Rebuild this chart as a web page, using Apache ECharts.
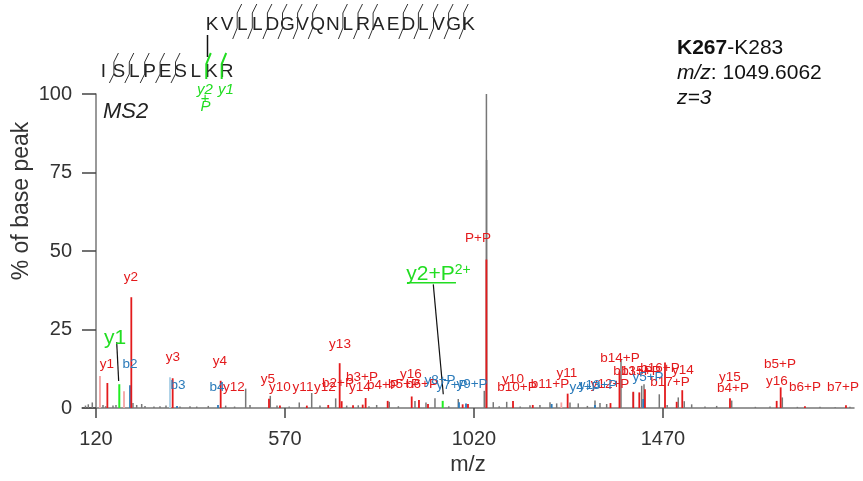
<!DOCTYPE html>
<html><head><meta charset="utf-8">
<script src="https://cdn.jsdelivr.net/npm/echarts@6/dist/echarts.min.js"></script>
<style>html,body{margin:0;padding:0;background:#fff}#c{width:863px;height:481px}</style>
</head><body><div id="c"></div>
<script>
// ---------- data ----------
const xTicks = [120, 570, 1020, 1470];
const yTicks = [0, 25, 50, 75, 100];

const greyPeaks = [[95,0.8],[101.7,1.2],[111.2,1.8],[136.7,1.0],[143,0.6],[160.5,0.8],[167.6,1.0],[208.1,1.6],[216.9,1.0],[228.8,1.3],[236.7,0.7],[258,0.5],[272.4,0.6],[286.7,0.8],[320,0.5],[343.8,0.6],[359.8,0.5],[387.4,0.7],[428.8,0.8],[450,0.5],[476.4,6.2],[486.7,1.0],[535,3.9],[551,0.8],[580,0.5],[604,1.8],[633.6,4.8],[653.3,0.8],[690.7,3.1],[716.9,0.8],[744.5,0.9],[770,0.6],[788.3,1.0],[818.3,2.0],[840,0.6],[879.5,2.3],[905.7,1.8],[927.1,3.1],[960,0.6],[982.6,2.9],[1044.5,5.5],[1049.6,100],[1050.0,79],[1065.9,1.9],[1080,0.6],[1097.9,2.0],[1130,0.5],[1153.3,0.9],[1177,1.0],[1201,1.9],[1216.9,1.5],[1248.6,1.8],[1268.3,1.5],[1290,0.7],[1308.1,2.4],[1320,1.6],[1335.9,1.3],[1370,15.6],[1399.3,5.0],[1419.3,7.1],[1424.8,7.6],[1461.2,4.4],[1480,1.0],[1506.4,3.4],[1520.7,2.2],[1538.3,1.2],[1570,0.5],[1597.8,0.7],[1633.6,2.4],[1690,0.4],[1724.8,0.5],[1754.1,3.4],[1790,0.4],[1843.8,0.4],[1880,0.3],[1915,0.4]];
const redPeaks = [[147.1,8.0],[204.1,35.3],[302.6,9.5],[416.9,8.7],[531.9,3.0],[558,0.8],[622,0.8],[673,1.0],[700.2,14.3],[705,2.2],[732,0.9],[755,1.1],[762,3.2],[814.5,2.3],[871.7,3.7],[889,2.6],[910.5,1.3],[993,1.2],[1005.7,1.3],[1049.6,47.3],[1112.9,2.3],[1160,1.0],[1243,4.6],[1345,1.6],[1366.4,11.7],[1399.3,5.2],[1413.6,5.0],[1427.1,6.0],[1474.8,14.5],[1502.6,2.0],[1515.9,5.7],[1629.5,3.1],[1740.7,2.3],[1750.2,6.6],[1808,0.6],[1905.7,0.9]];
const pinkPeaks = [[129.5,10.2],[186.7,5.4],[1228,1.8]];
const bluePeaks = [[201,7.3],[312.9,0.7],[410.5,1.0],[984.3,1.9],[1001,1.5],[1205,1.3],[1308,1.0],[1423,2.9]];
const lightBluePeaks = [[296.2,9.8]];
const greenPeaks = [[175.5,7.6],[945.5,2.3]];

const redLabels = [['y1',146.2,14.0],['y2',203.3,41.6],['y3',303.3,16.2],['y4',415.2,14.9],['y12',448.6,6.7],['y5',529.5,9.2],['y10',558.1,6.7],['y11',612.9,6.7],['y12',665.2,6.7],['b2+P',696.2,7.9],['y13',701,20.3],['b3+P',753.3,9.8],['y14',748.6,6.7],['b4+P',803.3,7.3],['b5+P',853.3,7.6],['b6+P',896.2,7.6],['y16',870,10.8],['P+P',1029.5,54.0],['y10',1112.9,9.2],['b10+P',1122.4,6.7],['b11+P',1201,7.6],['y11',1241.4,11.1],['y12+P',1343.8,7.6],['b14+P',1367.6,15.9],['b13+P',1398.6,11.7],['b15+P',1417.6,11.7],['b16+P',1462.9,12.7],['y14',1517.6,12.1],['b17+P',1486.7,8.3],['y15',1629.5,9.8],['b4+P',1636.7,6.3],['b5+P',1748.6,14.0],['y16',1741.4,8.6],['b6+P',1808.1,6.7],['b7+P',1898.6,6.7]];
const blueLabels = [['b2',201,14.0],['b3',315.2,7.3],['b4',408.1,6.7],['y8+P',939,8.9],['y7+P',967.6,7.3],['y9+P',1015.2,7.6],['y4+P',1284.3,6.7],['y13+P',1315.2,7.3],['y5+P',1434.3,9.8]];
const greenLabels = [['y1',165.2,22.2],['{a|y2+P}{s|2+}',935.5,42.5]];
const leaderLines = [[169.3,21.0,174.0,8.6],[923.1,39.4,946.9,4.4]];
const underlines = [[860.5,39.9,977.1,39.9]];

const peptideTop = 'KVLLDGVQNLRAEDLVGK';
const peptideBottom = 'ISLPESLKR';
const topBreaks = [2,3,4,5,6,7,9,10,11,13,14,15,16,17];
const bottomBreaks = [1,2,3,4,5];
const bottomGreenBreaks = [7,8];

// ---------- chart ----------
const FONT = '"Liberation Sans", Arial, Helvetica, sans-serif';
const chart = echarts.init(document.getElementById('c'));

function peakSeries(data, color, width, z) {
  return {
    type: 'custom', data: data, z: z, clip: true, encode: {x: 0, y: 1},
    renderItem: function (params, api) {
      const a = api.coord([api.value(0), 0]);
      const b = api.coord([api.value(0), api.value(1)]);
      return {type: 'line', shape: {x1: a[0], y1: a[1], x2: b[0], y2: b[1]},
        style: {stroke: color, lineWidth: width}};
    }
  };
}
function labelSeries(data, color, size, z) {
  return {
    type: 'custom', data: data.map(d => [d[1], d[2]]), z: z, clip: false, encode: {x: 0, y: 1},
    renderItem: function (params, api) {
      const p = api.coord([api.value(0), api.value(1)]);
      return {type: 'text', x: p[0], y: p[1], style: {
        text: data[params.dataIndex][0], fill: color, font: size + 'px ' + FONT,
        align: 'center', verticalAlign: 'middle',
        rich: {a: {fontSize: size, fontFamily: FONT, fill: color},
               s: {fontSize: Math.round(size * 0.68), fontFamily: FONT, fill: color, verticalAlign: 'top', padding: [0, 0, 8, 0]}}
      }};
    }
  };
}
function segSeries(data, color, width, z) {
  return {
    type: 'custom', data: data, z: z, clip: false, encode: {x: [0, 2], y: [1, 3]},
    renderItem: function (params, api) {
      const a = api.coord([api.value(0), api.value(1)]);
      const b = api.coord([api.value(2), api.value(3)]);
      return {type: 'line', shape: {x1: a[0], y1: a[1], x2: b[0], y2: b[1]},
        style: {stroke: color, lineWidth: width}};
    }
  };
}

// peptide annotation graphics
const graphics = [];
function addPeptide(seq, x0, dx, cy, size, breaks, greens, rel) {
  for (let i = 0; i < seq.length; i++) {
    graphics.push({type: 'text', x: x0 + i * dx, y: cy, style: {text: seq[i], font: size + 'px ' + FONT,
      fill: '#222', align: 'center', verticalAlign: 'middle'}});
  }
  breaks.forEach(function (i) {
    const x = x0 + i * dx - 5;
    graphics.push({type: 'polyline', shape: {points: [[x + 4.5, cy + rel[0]], [x, cy + rel[1]], [x, cy + rel[2]], [x - 4.5, cy + rel[3]]]},
      style: {stroke: '#333', lineWidth: 1, fill: null}});
  });
  (greens || []).forEach(function (i) {
    const x = x0 + i * dx - 5;
    graphics.push({type: 'polyline', shape: {points: [[x + 4.5, cy - 19], [x, cy - 8], [x, cy + 7]]},
      style: {stroke: '#22dd22', lineWidth: 2, fill: null}});
  });
}
addPeptide(peptideTop, 212, 15.1, 25, 19, topBreaks, null, [-21, -12, 3, 14]);
addPeptide(peptideBottom, 103.5, 15.4, 72, 19, bottomBreaks, bottomGreenBreaks, [-19, -10, 2, 11]);
graphics.push({type: 'line', shape: {x1: 207.5, y1: 35, x2: 207.5, y2: 57}, style: {stroke: '#111', lineWidth: 1.5}});
[['y2', 205, 90], ['y1', 226, 90], ['+', 205, 99], ['P', 205.5, 107]].forEach(function (t) {
  graphics.push({type: 'text', x: t[1], y: t[2], style: {text: t[0], font: 'italic 15px ' + FONT, fill: '#22dd22', align: 'center', verticalAlign: 'middle'}});
});
graphics.push({type: 'text', x: 103, y: 112, style: {text: 'MS2', font: 'italic 22px ' + FONT, fill: '#222', verticalAlign: 'middle'}});
graphics.push({type: 'text', x: 677, y: 48, style: {text: '{b|K267}{n|-K283}', verticalAlign: 'middle',
  rich: {b: {fontWeight: 'bold', fontSize: 21, fontFamily: FONT, fill: '#111'}, n: {fontSize: 21, fontFamily: FONT, fill: '#111'}}}});
graphics.push({type: 'text', x: 677, y: 73.5, style: {text: '{i|m/z}{n|: 1049.6062}', verticalAlign: 'middle',
  rich: {i: {fontStyle: 'italic', fontSize: 21, fontFamily: FONT, fill: '#111'}, n: {fontSize: 21, fontFamily: FONT, fill: '#111'}}}});
graphics.push({type: 'text', x: 677, y: 98.5, style: {text: 'z=3', font: 'italic 21px ' + FONT, fill: '#111', verticalAlign: 'middle'}});
graphics.push({type: 'text', x: 22, y: 201, rotation: Math.PI / 2, style: {text: '% of base peak', font: '23px ' + FONT,
  fill: '#333', align: 'center', verticalAlign: 'middle'}});

chart.setOption({
  animation: false,
  backgroundColor: '#fff',
  grid: {left: 82, right: 9, top: 94, bottom: 72, containLabel: false},
  xAxis: {
    type: 'value', min: 86.7, max: 1924.8,
    name: 'm/z', nameLocation: 'middle', nameGap: 44,
    nameTextStyle: {fontSize: 22, fontFamily: FONT, color: '#333'},
    axisLine: {show: true, onZero: false, lineStyle: {color: '#777', width: 1.5}},
    axisTick: {show: true, length: 10, inside: false, customValues: xTicks, lineStyle: {color: '#444', width: 1.5}},
    axisLabel: {customValues: xTicks, margin: 21, fontSize: 20, fontFamily: FONT, color: '#333',
      formatter: function (v) { return String(v); }},
    splitLine: {show: false}
  },
  yAxis: {
    type: 'value', min: 0, max: 100, interval: 25, offset: -14,
    axisLine: {show: true, lineStyle: {color: '#777', width: 1.5}},
    axisTick: {show: true, length: 14, inside: false, lineStyle: {color: '#444', width: 1.5}},
    axisLabel: {margin: 24, fontSize: 20, fontFamily: FONT, color: '#333', customValues: yTicks,
      formatter: function (v) { return String(v); }},
    splitLine: {show: false}
  },
  graphic: graphics,
  series: [
    peakSeries(greyPeaks, '#777777', 1.5, 1),
    peakSeries(pinkPeaks, '#f4a3a3', 1.8, 2),
    peakSeries(lightBluePeaks, '#a9cfe6', 1.8, 2),
    peakSeries(bluePeaks, '#2b7bba', 1.8, 3),
    peakSeries(redPeaks, '#e31a1c', 1.8, 3),
    peakSeries(greenPeaks, '#22ee22', 2, 4),
    segSeries(leaderLines, '#111', 1.2, 5),
    segSeries(underlines, '#22dd22', 1.5, 5),
    labelSeries(redLabels, '#e31a1c', 13.5, 6),
    labelSeries(blueLabels, '#2b7bba', 13.5, 6),
    labelSeries(greenLabels, '#22dd22', 21, 7)
  ]
});
</script></body></html>
